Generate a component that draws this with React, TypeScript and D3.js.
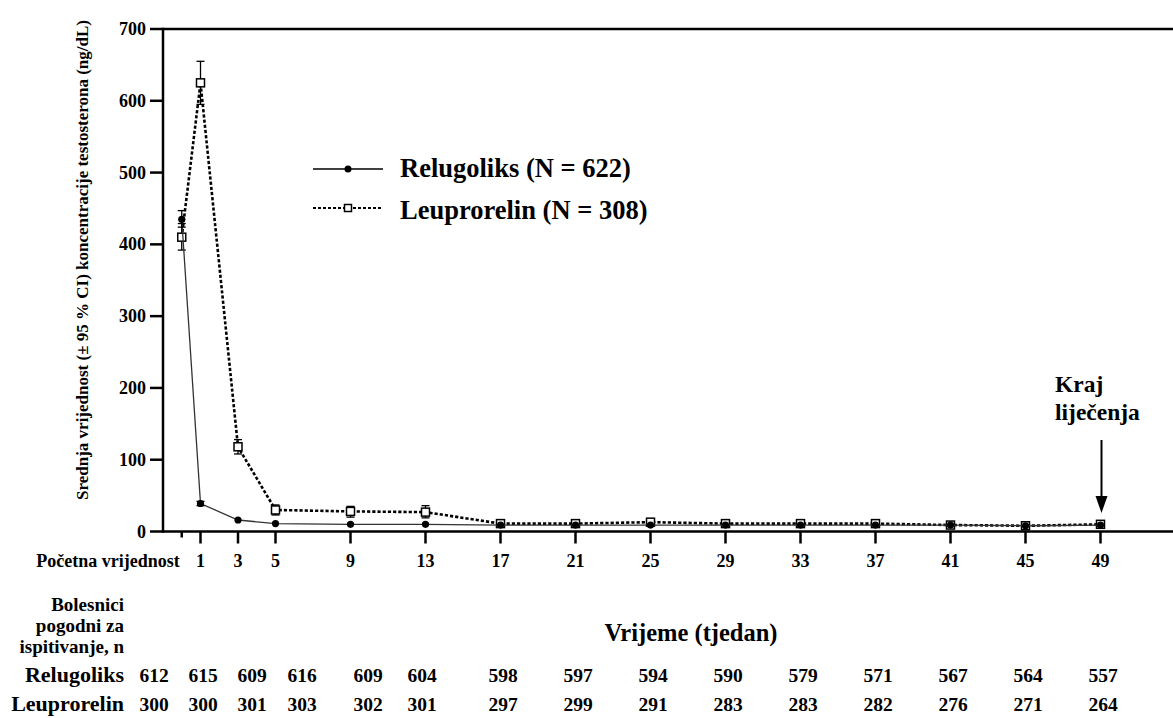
import React from 'react';
import * as d3 from 'd3';

// ---------- data ----------
const weeks = [0, 1, 3, 5, 9, 13, 17, 21, 25, 29, 33, 37, 41, 45, 49];
const tickLabels = ['Početna vrijednost', '1', '3', '5', '9', '13', '17', '21', '25', '29', '33', '37', '41', '45', '49'];
const relugoliksMean = [435, 39, 16, 11, 10, 10, 9, 9, 9, 9, 9, 9, 9, 8, 9];
const relugoliksLow = [424, 36, 14, 10, 9, 9, 8, 8, 8, 8, 8, 8, 8, 7, 8];
const relugoliksHigh = [447, 42, 18, 12, 11, 11, 10, 10, 10, 10, 10, 10, 10, 9, 10];
const leuproMean = [410, 625, 118, 30, 28, 27, 11, 11, 13, 11, 11, 11, 9, 8, 10];
const leuproLow = [392, 595, 108, 23, 20, 19, 9, 9, 11, 9, 9, 9, 8, 7, 8];
const leuproHigh = [429, 655, 128, 37, 35, 36, 13, 13, 15, 13, 13, 13, 11, 10, 12];
const relugoliksN = [612, 615, 609, 616, 609, 604, 598, 597, 594, 590, 579, 571, 567, 564, 557];
const leuproN = [300, 300, 301, 303, 302, 301, 297, 299, 291, 283, 283, 282, 276, 271, 264];
const yTicks = [0, 100, 200, 300, 400, 500, 600, 700];

// ---------- layout ----------
const W = 1173;
const H = 718;
const FONT = "'Liberation Serif', 'DejaVu Serif', serif";
const tableColX = [154, 203, 252, 302, 368, 422, 503, 578, 653, 728, 803, 878, 953, 1028, 1103];

const T: React.CSSProperties = { fontFamily: FONT, fontWeight: 700 };

export default function App() {
  const x = d3.scaleLinear().domain([-1, 53]).range([163, 1175.5]);
  const y = d3.scaleLinear().domain([0, 700]).range([531.5, 29]);

  const line = d3
    .line<number>()
    .x((_, i) => x(weeks[i]))
    .y((d) => y(d));

  const errBar = (i: number, lo: number, hi: number, key: string) => {
    const cx = x(weeks[i]);
    const cw = 4;
    return (
      <g key={key} stroke="#000" strokeWidth={1.3}>
        <line x1={cx} x2={cx} y1={y(lo)} y2={y(hi)} />
        <line x1={cx - cw} x2={cx + cw} y1={y(lo)} y2={y(lo)} />
        <line x1={cx - cw} x2={cx + cw} y1={y(hi)} y2={y(hi)} />
      </g>
    );
  };

  const arrowX = x(49) + 1;

  return (
    <svg
      width={W}
      height={H}
      style={{ position: 'absolute', left: 0, top: 0, background: '#fff', fontFamily: FONT, fontWeight: 700 }}
    >
      <rect x={0} y={0} width={W} height={H} fill="#fff" />

      {/* Y axis title */}
      <text
        transform={`translate(88, 260) rotate(-90)`}
        textAnchor="middle"
        fontSize={17}
        fill="#000"
        style={T}
      >
        Srednja vrijednost (± 95 % CI) koncentracije testosterona (ng/dL)
      </text>

      {/* Y ticks */}
      {yTicks.map((t) => (
        <g key={t}>
          <line x1={150} x2={163} y1={y(t)} y2={y(t)} stroke="#000" strokeWidth={2.5} />
          <text x={146} y={y(t) + 6} textAnchor="end" fontSize={18} fill="#000" style={T}>
            {t}
          </text>
        </g>
      ))}

      {/* frame */}
      <line x1={163} x2={W} y1={y(700)} y2={y(700)} stroke="#000" strokeWidth={2.5} />
      <line x1={163} x2={W} y1={y(0)} y2={y(0)} stroke="#000" strokeWidth={2.5} />
      <line x1={163} x2={163} y1={y(700) - 1.2} y2={y(0) + 1.2} stroke="#000" strokeWidth={2.5} />

      {/* X ticks */}
      {weeks.map((w, i) => (
        <g key={w}>
          <line
            x1={x(w)}
            x2={x(w)}
            y1={y(0)}
            y2={y(0) + (i === 0 ? 6 : 12)}
            stroke="#000"
            strokeWidth={2.5}
          />
          <text
            x={i === 0 ? x(w) - 2 : x(w)}
            y={567}
            textAnchor={i === 0 ? 'end' : 'middle'}
            fontSize={18}
            fill="#000"
            style={T}
          >
            {tickLabels[i]}
          </text>
        </g>
      ))}

      {/* Leuprorelin series */}
      <path
        d={line(leuproMean) || ''}
        fill="none"
        stroke="#000"
        strokeWidth={2.6}
        strokeDasharray="3.2,2"
      />
      {leuproMean.map((_, i) => errBar(i, leuproLow[i], leuproHigh[i], 'le' + i))}
      {leuproMean.map((v, i) => (
        <rect
          key={'ls' + i}
          x={x(weeks[i]) - 4}
          y={y(v) - 4}
          width={8}
          height={8}
          fill="#fff"
          stroke="#000"
          strokeWidth={1.5}
        />
      ))}

      {/* Relugoliks series */}
      <path d={line(relugoliksMean) || ''} fill="none" stroke="#333" strokeWidth={1.3} />
      {relugoliksMean.map((_, i) =>
        i < 2 ? errBar(i, relugoliksLow[i], relugoliksHigh[i], 're' + i) : null
      )}
      {relugoliksMean.map((v, i) => (
        <circle key={'rc' + i} cx={x(weeks[i])} cy={y(v)} r={3.6} fill="#000" />
      ))}

      {/* Legend */}
      <line x1={313} x2={383} y1={169} y2={169} stroke="#000" strokeWidth={1.5} />
      <circle cx={348} cy={169} r={3.5} fill="#000" />
      <text x={400} y={177} fontSize={26.5} fill="#000" style={T}>
        Relugoliks (N = 622)
      </text>
      <line
        x1={313}
        x2={383}
        y1={208}
        y2={208}
        stroke="#000"
        strokeWidth={2}
        strokeDasharray="3,2"
      />
      <rect x={344.5} y={204.5} width={7} height={7} fill="#fff" stroke="#000" strokeWidth={1.5} />
      <text x={400} y={219} fontSize={26.5} fill="#000" style={T}>
        Leuprorelin (N = 308)
      </text>

      {/* End of treatment annotation */}
      <text x={1055} y={392} fontSize={23.5} fill="#000" style={T}>
        Kraj
      </text>
      <text x={1055} y={420} fontSize={23.5} fill="#000" style={T}>
        liječenja
      </text>
      <line x1={arrowX} x2={arrowX} y1={440} y2={498} stroke="#000" strokeWidth={2} />
      <path
        d={`M${arrowX - 6},${496} L${arrowX + 6},${496} L${arrowX},${513} Z`}
        fill="#000"
      />

      {/* X axis title */}
      <text x={691} y={641} textAnchor="middle" fontSize={24.5} fill="#000" style={T}>
        Vrijeme (tjedan)
      </text>

      {/* Patients table */}
      <g fontSize={19} fill="#000" textAnchor="end">
        <text x={124} y={611} style={T}>Bolesnici</text>
        <text x={124} y={632} style={T}>pogodni za</text>
        <text x={124} y={653} style={T}>ispitivanje, n</text>
      </g>
      <text x={124} y={682} textAnchor="end" fontSize={22} fill="#000" style={T}>
        Relugoliks
      </text>
      <text x={124} y={711} textAnchor="end" fontSize={22} fill="#000" style={T}>
        Leuprorelin
      </text>
      {relugoliksN.map((n, i) => (
        <text key={'rn' + i} x={tableColX[i]} y={682} textAnchor="middle" fontSize={19.5} fill="#000" style={T}>
          {n}
        </text>
      ))}
      {leuproN.map((n, i) => (
        <text key={'ln' + i} x={tableColX[i]} y={711} textAnchor="middle" fontSize={19.5} fill="#000" style={T}>
          {n}
        </text>
      ))}
    </svg>
  );
}
